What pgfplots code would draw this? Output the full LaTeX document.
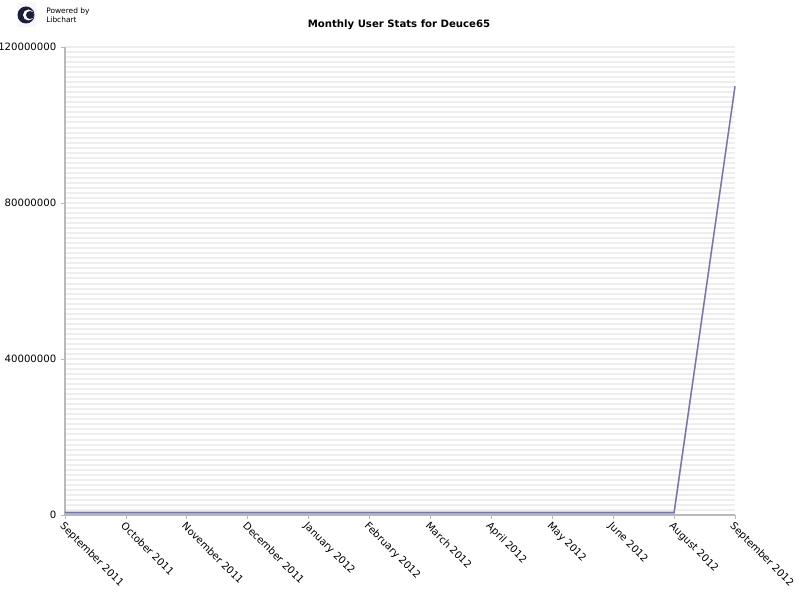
\documentclass[border=0pt]{standalone}
\usepackage{fontspec}
\setmainfont{DejaVu Sans}
\usepackage{pgfplots}
\pgfplotsset{compat=1.18}

\definecolor{stripe}{RGB}{238,238,238}
\definecolor{axisgray}{RGB}{185,185,185}
\definecolor{linecol}{RGB}{118,118,165}
\definecolor{shadowcol}{RGB}{170,170,210}
\definecolor{logonavy}{RGB}{24,30,60}

\begin{document}
\begin{tikzpicture}[x=0.75pt,y=0.75pt]
% page = 800 x 600 px, axis origin at px (65,515)
\useasboundingbox (-65,-85) rectangle (735,515);

% Libchart logo
\fill[gray!6] (-48,488) rectangle (-29,512);
\fill[logonavy] (-39,500) circle (8.5);
\fill[white] (-36.5,500) circle (5.5);
\fill[logonavy] (-35,500) circle (4);
\node[anchor=west, inner sep=0pt, font=\fontsize{5.6}{6}\selectfont] at (-19,504) {Powered by};
\node[anchor=west, inner sep=0pt, font=\fontsize{5.6}{6}\selectfont] at (-19,495) {Libchart};

% title
\node[font=\bfseries\fontsize{7.6}{9}\selectfont] at (334,490) {Monthly User Stats for Deuce65};

\begin{axis}[
    at={(0,0)}, anchor=south west,
    scale only axis,
    width=502.5pt, height=351pt,
    xmin=0, xmax=11, ymin=0, ymax=120000000,
    axis lines=left,
    axis line style={-, draw=axisgray, line width=1.3pt},
    xtick={0,...,11},
    xticklabels={September 2011,October 2011,November 2011,December 2011,January 2012,February 2012,March 2012,April 2012,May 2012,June 2012,August 2012,September 2012},
    x tick label style={rotate=-45, anchor=north west, inner sep=1pt},
    ytick={0,40000000,80000000,120000000},
    scaled y ticks=false,
    yticklabel style={/pgf/number format/fixed, /pgf/number format/1000 sep={}, /pgf/number format/assume math mode=true},
    tick label style={font=\fontsize{7.6}{9}\selectfont},
    tick align=outside,
    major tick length=3pt,
    minor tick length=0pt,
    tick style={draw=axisgray, line width=0.6pt},
    minor y tick num=30,
    ymajorgrids, yminorgrids,
    major grid style={draw=stripe, line width=1.5pt},
    minor grid style={draw=stripe, line width=1.5pt},
    clip=false,
]
\addplot[draw=linecol, line width=1pt,
    preaction={draw=shadowcol, line width=1pt, transform canvas={yshift=-1.1pt}}]
  coordinates {
    (0,700000) (1,700000) (2,700000) (3,700000) (4,700000) (5,700000)
    (6,700000) (7,700000) (8,700000) (9,700000) (10,700000) (11,110000000)
  };
\end{axis}
\end{tikzpicture}
\end{document}
